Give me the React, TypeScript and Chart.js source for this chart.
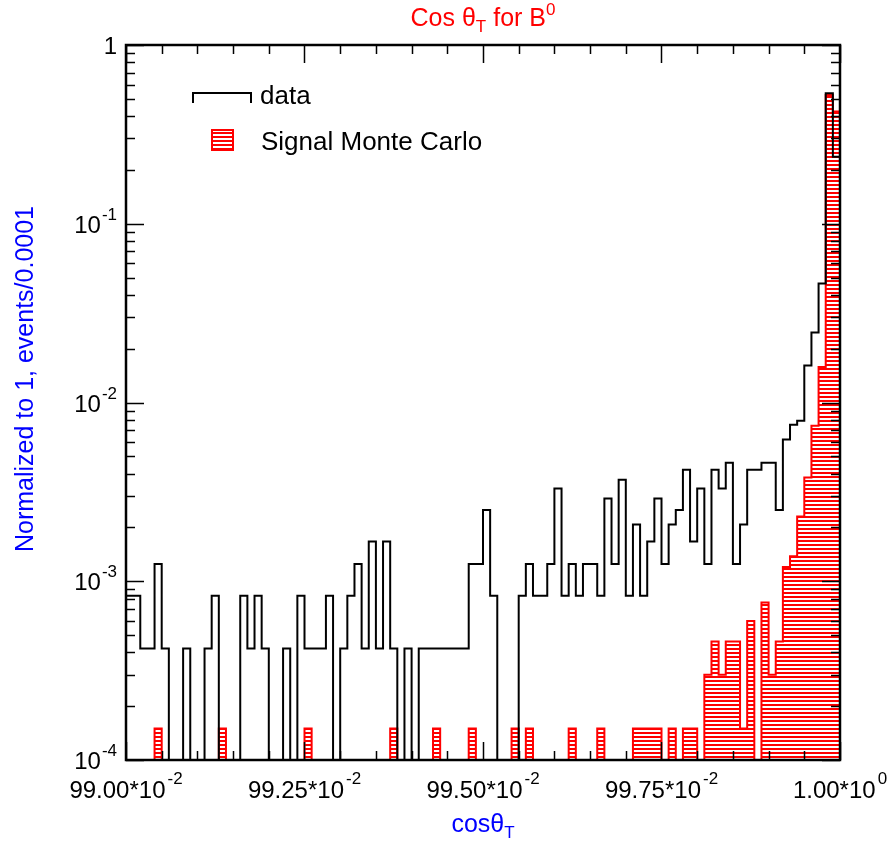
import React, { useEffect, useRef } from "react";
import { Chart, registerables } from "chart.js";

Chart.register(...registerables);

// ---------- data ----------
const binStart = 0.99;
const binWidth = 0.0001;

// data histogram (normalized to 1, events / 0.0001)
const dataValues: number[] = [
  0.00083, 0.00083, 0.00042, 0.00042, 0.00125, 0.00042, 0, 0, 0.00042, 0,
  0, 0.00042, 0.00083, 0, 0, 0, 0.00083, 0.00042, 0.00083, 0.00042,
  0, 0, 0.00042, 0, 0.00083, 0.00042, 0.00042, 0.00042, 0.00083, 0,
  0.00042, 0.00083, 0.00125, 0.00042, 0.00167, 0.00042, 0.00167, 0.00042, 0, 0.00042,
  0, 0.00042, 0.00042, 0.00042, 0.00042, 0.00042, 0.00042, 0.00042, 0.00125, 0.00125,
  0.0025, 0.00083, 0, 0, 0, 0.00083, 0.00125, 0.00083, 0.00083, 0.00125,
  0.0033, 0.00083, 0.00125, 0.00083, 0.00125, 0.00125, 0.00083, 0.0029, 0.00125, 0.0037,
  0.00083, 0.00208, 0.00083, 0.00167, 0.0029, 0.00125, 0.00208, 0.0025, 0.0042, 0.00167,
  0.0033, 0.00125, 0.0042, 0.0033, 0.0046, 0.00125, 0.00208, 0.0042, 0.0042, 0.0046,
  0.0046, 0.0025, 0.0062, 0.0075, 0.0079, 0.0161, 0.0246, 0.0463, 0.537, 0.237,
];

// signal Monte Carlo histogram
const mcValues: number[] = [
  0, 0, 0, 0, 0.00015, 0, 0, 0, 0, 0,
  0, 0, 0, 0.00015, 0, 0, 0, 0, 0, 0,
  0, 0, 0, 0, 0, 0.00015, 0, 0, 0, 0,
  0, 0, 0, 0, 0, 0, 0, 0.00015, 0, 0,
  0, 0, 0, 0.00015, 0, 0, 0, 0, 0.00015, 0,
  0, 0, 0, 0, 0.00015, 0, 0.00015, 0, 0, 0,
  0, 0, 0.00015, 0, 0, 0, 0.00015, 0, 0, 0,
  0, 0.00015, 0.00015, 0.00015, 0.00015, 0, 0.00015, 0, 0.00015, 0.00015,
  0, 0.0003, 0.00046, 0.0003, 0.00046, 0.00046, 0.00015, 0.0006, 0, 0.00076,
  0.0003, 0.00046, 0.0012, 0.00138, 0.0023, 0.0038, 0.0074, 0.0158, 0.525, 0.424,
];

const xMajorTicks = [0.99, 0.9925, 0.995, 0.9975, 1.0];
const xTickBase = ["99.00*10", "99.25*10", "99.50*10", "99.75*10", "1.00*10"];
const xTickExp = ["-2", "-2", "-2", "-2", "0"];
const xMinorStep = 0.0005;

const yMajorTicks = [1, 0.1, 0.01, 0.001, 0.0001];
const yTickBase = ["1", "10", "10", "10", "10"];
const yTickExp = ["", "-1", "-2", "-3", "-4"];

const seriesNames = ["data", "Signal Monte Carlo"];

const FONT = '"Liberation Sans", Arial, Helvetica, sans-serif';
// empty bins are drawn down past the bottom of the log axis (clipped)
const EMPTY_BIN = 1e-7;

function toSteps(values: number[]) {
  const pts = values.map((v, i) => ({ x: binStart + i * binWidth, y: v > 0 ? v : EMPTY_BIN }));
  const last = values[values.length - 1];
  pts.push({ x: binStart + values.length * binWidth, y: last > 0 ? last : EMPTY_BIN });
  return pts;
}

type Part = { t: string; size: number; dy: number; gap?: number };

function richWidth(ctx: CanvasRenderingContext2D, parts: Part[]) {
  let w = 0;
  for (const p of parts) {
    ctx.font = `${p.size}px ${FONT}`;
    w += ctx.measureText(p.t).width + (p.gap || 0);
  }
  return w;
}

function drawRich(
  ctx: CanvasRenderingContext2D,
  parts: Part[],
  x: number,
  y: number,
  align: "left" | "center" | "right",
  color: string
) {
  const w = richWidth(ctx, parts);
  let cx = align === "left" ? x : align === "center" ? x - w / 2 : x - w;
  ctx.fillStyle = color;
  ctx.textAlign = "left";
  ctx.textBaseline = "alphabetic";
  for (const p of parts) {
    ctx.font = `${p.size}px ${FONT}`;
    cx += p.gap || 0;
    ctx.fillText(p.t, cx, y + p.dy);
    cx += ctx.measureText(p.t).width;
  }
}

function makeHatch(): CanvasPattern | string {
  const c = document.createElement("canvas");
  c.width = 4;
  c.height = 4;
  const g = c.getContext("2d");
  if (!g) return "rgba(255,0,0,0.5)";
  g.fillStyle = "#ffffff";
  g.fillRect(0, 0, 4, 4);
  g.fillStyle = "#ff0000";
  g.fillRect(0, 0, 4, 2);
  return g.createPattern(c, "repeat") || "rgba(255,0,0,0.5)";
}

const framePlugin = {
  id: "frame",
  afterDraw(chart: any) {
    const ctx: CanvasRenderingContext2D = chart.ctx;
    const { left, right, top, bottom } = chart.chartArea;
    const xs = chart.scales.x;
    const ys = chart.scales.y;
    ctx.save();

    // ticks
    ctx.strokeStyle = "#000";
    ctx.lineWidth = 1.5;
    const major = 18;
    const minor = 9;
    ctx.beginPath();
    for (let v = binStart; v <= 1.00001; v += xMinorStep) {
      const px = Math.round(xs.getPixelForValue(v)) + 0.5;
      const isMajor = xMajorTicks.some((m) => Math.abs(m - v) < 1e-7);
      const len = isMajor ? major : minor;
      ctx.moveTo(px, bottom);
      ctx.lineTo(px, bottom - len);
      ctx.moveTo(px, top);
      ctx.lineTo(px, top + len);
    }
    for (const d of yMajorTicks) {
      for (let m = 1; m <= 9; m++) {
        const v = d * m;
        if (v > 1.0000001) continue;
        const py = Math.round(ys.getPixelForValue(v)) + 0.5;
        const len = m === 1 ? major : minor;
        ctx.moveTo(left, py);
        ctx.lineTo(left + len, py);
        ctx.moveTo(right, py);
        ctx.lineTo(right - len, py);
      }
    }
    ctx.stroke();

    // frame
    ctx.lineWidth = 2.5;
    ctx.strokeRect(left, top, right - left, bottom - top);

    // x tick labels
    xMajorTicks.forEach((v, i) => {
      const px = xs.getPixelForValue(v);
      drawRich(
        ctx,
        [
          { t: xTickBase[i], size: 24, dy: 0 },
          { t: xTickExp[i], size: 17, dy: -14, gap: 2 },
        ],
        px,
        bottom + 38,
        "center",
        "#000"
      );
    });

    // y tick labels
    yMajorTicks.forEach((v, i) => {
      const py = ys.getPixelForValue(v);
      const parts: Part[] = [{ t: yTickBase[i], size: 24, dy: 0 }];
      if (yTickExp[i]) parts.push({ t: yTickExp[i], size: 17, dy: -13, gap: 1 });
      drawRich(ctx, parts, left - 9, py + 9, "right", "#000");
    });

    // title
    drawRich(
      ctx,
      [
        { t: "Cos \u03b8", size: 25, dy: 0 },
        { t: "T", size: 17, dy: 6 },
        { t: " for B", size: 25, dy: 0 },
        { t: "0", size: 17, dy: -11 },
      ],
      (left + right) / 2,
      26,
      "center",
      "#ff0000"
    );

    // x axis title
    drawRich(
      ctx,
      [
        { t: "cos\u03b8", size: 25, dy: 0 },
        { t: "T", size: 17, dy: 6 },
      ],
      (left + right) / 2,
      bottom + 72,
      "center",
      "#0000ff"
    );

    // y axis title
    ctx.save();
    ctx.translate(33, 379);
    ctx.rotate(-Math.PI / 2);
    ctx.font = `25px ${FONT}`;
    ctx.fillStyle = "#0000ff";
    ctx.textAlign = "center";
    ctx.textBaseline = "alphabetic";
    ctx.fillText("Normalized to 1, events/0.0001", 0, 0);
    ctx.restore();

    // legend
    const lx = left + 67;
    ctx.strokeStyle = "#000";
    ctx.lineWidth = 2;
    ctx.beginPath();
    ctx.moveTo(lx, 103);
    ctx.lineTo(lx, 93);
    ctx.lineTo(lx + 58, 93);
    ctx.lineTo(lx + 58, 103);
    ctx.stroke();
    ctx.fillStyle = "#000";
    ctx.font = `26px ${FONT}`;
    ctx.textAlign = "left";
    ctx.textBaseline = "alphabetic";
    ctx.fillText(seriesNames[0], left + 134, 104);

    const hatch = makeHatch();
    ctx.fillStyle = hatch as any;
    ctx.fillRect(left + 86, 130, 21, 20);
    ctx.strokeStyle = "#ff0000";
    ctx.lineWidth = 2;
    ctx.strokeRect(left + 86, 130, 21, 20);
    ctx.fillStyle = "#000";
    ctx.font = `26px ${FONT}`;
    ctx.fillText(seriesNames[1], left + 135, 150);

    ctx.restore();
  },
};

export default function App() {
  const ref = useRef<HTMLCanvasElement>(null);

  useEffect(() => {
    if (!ref.current) return;
    const hatch = makeHatch();
    const chart = new Chart(ref.current, {
      type: "line",
      data: {
        datasets: [
          {
            label: seriesNames[0],
            data: toSteps(dataValues),
            stepped: "before",
            borderColor: "#000000",
            borderWidth: 2,
            pointRadius: 0,
            fill: false,
            order: 0,
          },
          {
            label: seriesNames[1],
            data: toSteps(mcValues),
            stepped: "before",
            borderColor: "#ff0000",
            borderWidth: 2,
            pointRadius: 0,
            backgroundColor: hatch as any,
            fill: "start",
            order: 1,
          },
        ],
      },
      options: {
        animation: false,
        responsive: false,
        devicePixelRatio: 1,
        layout: { padding: { left: 126, right: 51, top: 45, bottom: 81 } },
        scales: {
          x: { type: "linear", min: 0.99, max: 1.0, display: false },
          y: { type: "logarithmic", min: 0.0001, max: 1, display: false },
        },
        plugins: {
          legend: { display: false },
          tooltip: { enabled: false },
          title: { display: false },
        },
      },
      plugins: [framePlugin],
    });
    return () => chart.destroy();
  }, []);

  return (
    <div
      style={{
        position: "fixed",
        left: 0,
        top: 0,
        width: 891,
        height: 841,
        background: "#ffffff",
      }}
    >
      <canvas ref={ref} width={891} height={841} style={{ width: 891, height: 841, display: "block" }} />
    </div>
  );
}
